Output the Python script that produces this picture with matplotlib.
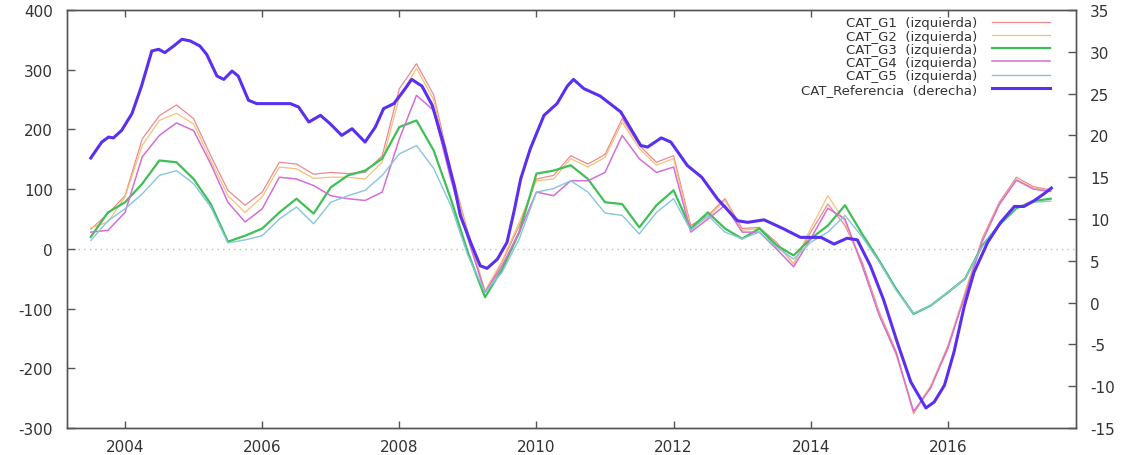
import numpy as np
import matplotlib
matplotlib.use("Agg")
import matplotlib.pyplot as plt

plt.rcParams["axes.unicode_minus"] = False

# quarterly sample dates (decimal years), 2003-T3 .. 2017-T3
fechas = np.arange(2003.5, 2017.51, 0.25)

cat_g1 = [33, 59, 89, 184, 223, 241, 218, 156, 98, 73,
          95, 145, 142, 125, 128, 126, 128, 156, 268, 310,
          258, 134, 28, -73, -22, 39, 117, 123, 156, 142,
          158, 218, 173, 145, 156, 39, 56, 84, 34, 36,
          11, -25, 28, 75, 39, -22, -106, -173, -276, -231,
          -168, -75, 17, 78, 120, 104, 99]
cat_g2 = [35, 45, 87, 173, 215, 227, 209, 148, 89, 61,
          87, 137, 134, 118, 120, 120, 117, 145, 254, 302,
          250, 128, 25, -70, -20, 45, 114, 117, 151, 137,
          153, 212, 168, 140, 151, 34, 53, 81, 31, 34,
          8, -25, 34, 89, 45, -28, -109, -179, -274, -229,
          -162, -72, 14, 75, 116, 102, 97]
cat_g3 = [20, 61, 78, 109, 148, 145, 117, 75, 12, 22,
          34, 61, 84, 59, 103, 123, 131, 151, 204, 215,
          165, 84, -6, -81, -34, 28, 126, 131, 140, 117,
          78, 75, 36, 73, 98, 34, 61, 34, 17, 34,
          6, -11, 17, 39, 73, 25, -20, -68, -109, -95,
          -73, -50, 5, 40, 68, 80, 84]
cat_g4 = [28, 31, 61, 154, 190, 211, 198, 142, 78, 45,
          67, 120, 117, 106, 89, 84, 81, 95, 184, 257,
          232, 117, 17, -73, -28, 28, 95, 89, 114, 114,
          128, 190, 151, 128, 137, 28, 50, 73, 28, 28,
          0, -30, 17, 68, 50, -28, -112, -176, -272, -233,
          -165, -78, 12, 74, 115, 100, 96]
cat_g5 = [14, 47, 67, 92, 123, 131, 109, 70, 10, 15,
          22, 50, 70, 42, 78, 89, 98, 123, 159, 173,
          135, 73, -11, -73, -39, 17, 95, 101, 114, 95,
          60, 56, 25, 61, 84, 31, 56, 28, 17, 28,
          3, -17, 11, 28, 56, 20, -22, -70, -108, -95,
          -73, -50, 3, 42, 70, 78, 80]

# reference series, read at a finer step (right axis)
fechas_ref = [2003.50, 2003.66, 2003.76, 2003.83, 2003.95, 2004.10, 2004.24, 2004.39,
              2004.49, 2004.58, 2004.71, 2004.83, 2004.95, 2005.09, 2005.19, 2005.34,
              2005.44, 2005.56, 2005.65, 2005.80, 2005.92, 2006.07, 2006.41, 2006.53,
              2006.68, 2006.85, 2006.99, 2007.16, 2007.31, 2007.50, 2007.65, 2007.77,
              2007.92, 2008.06, 2008.18, 2008.33, 2008.48, 2008.65, 2008.80, 2008.89,
              2009.04, 2009.18, 2009.28, 2009.43, 2009.57, 2009.67, 2009.77, 2009.91,
              2010.11, 2010.30, 2010.45, 2010.54, 2010.69, 2010.93, 2011.23, 2011.52,
              2011.62, 2011.82, 2011.96, 2012.20, 2012.41, 2012.64, 2012.93, 2013.08,
              2013.32, 2013.61, 2013.85, 2014.15, 2014.34, 2014.53, 2014.68, 2014.87,
              2015.06, 2015.26, 2015.46, 2015.68, 2015.80, 2015.95, 2016.09, 2016.24,
              2016.38, 2016.58, 2016.77, 2016.97, 2017.11, 2017.26, 2017.40, 2017.51]
cat_ref = [17.3, 19.2, 19.8, 19.7, 20.6, 22.6, 25.9, 30.1,
           30.3, 29.9, 30.7, 31.5, 31.3, 30.7, 29.7, 27.1,
           26.7, 27.7, 27.1, 24.2, 23.8, 23.8, 23.8, 23.4,
           21.6, 22.4, 21.4, 20.0, 20.8, 19.2, 21.0, 23.2,
           23.8, 25.3, 26.7, 25.9, 23.6, 18.8, 14.0, 10.4,
           7.2, 4.4, 4.1, 5.2, 7.2, 10.8, 14.8, 18.4,
           22.4, 23.8, 25.9, 26.7, 25.6, 24.7, 22.8, 18.8,
           18.6, 19.7, 19.2, 16.4, 15.0, 12.4, 9.8, 9.6,
           9.9, 8.8, 7.8, 7.8, 7.0, 7.7, 7.5, 4.4,
           0.4, -4.7, -9.5, -12.6, -11.9, -9.9, -5.9, -0.4,
           3.6, 7.2, 9.6, 11.5, 11.5, 12.2, 13.0, 13.7]

series_izq = [
    ("CAT_G1  (izquierda)", cat_g1, "#ec8a8c", 0.9),
    ("CAT_G2  (izquierda)", cat_g2, "#f3c27a", 0.9),
    ("CAT_G3  (izquierda)", cat_g3, "#3fbf55", 1.6),
    ("CAT_G4  (izquierda)", cat_g4, "#d36fd6", 1.1),
    ("CAT_G5  (izquierda)", cat_g5, "#86c6dc", 1.0),
]
REF_LABEL = "CAT_Referencia  (derecha)"
REF_COLOR = "#5a2ff0"

TXT = "#333333"
SPINE = "#555555"

fig = plt.figure(figsize=(11.24, 4.56), dpi=100)
ax = fig.add_axes([0.0596, 0.0592, 0.8977, 0.9167])
ax2 = ax.twinx()

ax.axhline(0, color="#bdbdbd", lw=1.0, ls=(0, (1, 3)), zorder=1)

handles = []
for label, vals, color, lw in series_izq:
    h, = ax.plot(fechas, vals, color=color, lw=lw, label=label, zorder=2)
    handles.append(h)
h, = ax2.plot(fechas_ref, cat_ref, color=REF_COLOR, lw=2.2, label=REF_LABEL, zorder=3)
handles.append(h)

ax.set_xlim(2003.153, 2017.869)
ax.set_ylim(-300, 400)
ax2.set_ylim(-15, 35)
ax.set_xticks([2004, 2006, 2008, 2010, 2012, 2014, 2016])
ax.set_yticks(range(-300, 401, 100))
ax2.set_yticks(range(-15, 36, 5))

ax.tick_params(axis="x", direction="in", length=5, width=1, color=SPINE,
               labelcolor=TXT, labelsize=11, pad=8, top=True)
ax.tick_params(axis="y", direction="in", length=6, width=1, color=SPINE,
               labelcolor=TXT, labelsize=11, pad=10, right=False)
ax2.tick_params(axis="y", direction="in", length=6, width=1, color=SPINE,
                labelcolor=TXT, labelsize=11, pad=10)
for a in (ax, ax2):
    for s in a.spines.values():
        s.set_color(SPINE)
        s.set_linewidth(1.0)

leg = ax2.legend(handles=handles, loc="upper right", bbox_to_anchor=(0.974, 0.985),
                 frameon=False, markerfirst=False, fontsize=9.5, labelspacing=0.02,
                 handlelength=4.4, handletextpad=1.1, borderpad=0, borderaxespad=0)
for t in leg.get_texts():
    t.set_color(TXT)

fig.savefig("out.png", dpi=100)
